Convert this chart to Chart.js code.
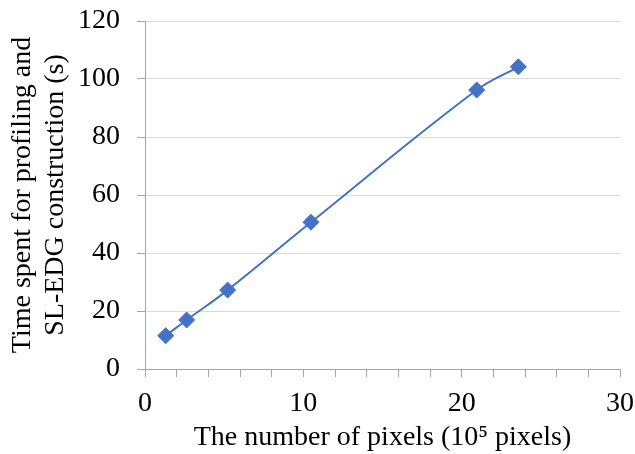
<!DOCTYPE html>
<html>
<head>
<meta charset="utf-8">
<script src="https://cdn.jsdelivr.net/npm/chart.js@4"></script>
<style>
  html, body { margin: 0; padding: 0; background: #fff; }
  #wrap { width: 635px; height: 454px; }
</style>
</head>
<body>
<div id="wrap"><canvas id="chart" width="635" height="454"></canvas></div>
<script>
// data (x in 10^5 pixels, y in seconds)
const pixels = [1.31, 2.63, 5.22, 10.48, 20.95, 23.58];
const times = [11.5, 16.9, 27.2, 50.6, 96.2, 104.2];
const xTitle = 'The number of pixels (10\u2075 pixels)';
const yTitle = ['Time spent for profiling and', 'SL-EDG construction (s)'];

const points = pixels.map((x, i) => ({ x: x, y: times[i] }));
const font = { family: "'Liberation Serif', 'Times New Roman', serif", size: 28 };

const ctx = document.getElementById('chart').getContext('2d');
const chart = new Chart(ctx, {
  type: 'scatter',
  data: {
    datasets: [{
      data: points,
      showLine: true,
      borderColor: '#4472C4',
      borderWidth: 2,
      backgroundColor: '#4472C4',
      pointStyle: 'rectRot',
      pointRadius: 8,
      pointBorderWidth: 1,
      tension: 0.4
    }]
  },
  options: {
    responsive: false,
    animation: false,
    layout: { padding: { top: 21, right: 15, left: 0, bottom: 0 } },
    plugins: { legend: { display: false }, tooltip: { enabled: false } },
    scales: {
      x: {
        type: 'linear',
        min: 0, max: 30,
        // fixed box so the plot lands where the original one is
        afterFit: s => { s.height = 85; s.paddingLeft = 0; s.paddingRight = 0; },
        ticks: {
          stepSize: 2,
          color: '#000',
          font: font,
          padding: 10,
          maxRotation: 0,
          autoSkip: false,
          callback: v => (v % 10 === 0 ? v : '')
        },
        grid: { drawOnChartArea: false, tickLength: 8, tickColor: '#a6a6a6' },
        border: { color: '#a6a6a6', width: 1 },
        title: { display: true, text: xTitle, color: '#000', font: font, padding: { top: 0, bottom: 0 } }
      },
      y: {
        min: 0, max: 120,
        afterFit: s => { s.width = 145; s.paddingTop = 0; s.paddingBottom = 0; },
        ticks: { stepSize: 20, color: '#000', font: font, padding: 17 },
        grid: { color: '#d9d9d9', tickLength: 8, tickColor: '#a6a6a6' },
        border: { color: '#a6a6a6', width: 1 },
        title: { display: true, text: yTitle, color: '#000', font: Object.assign({ lineHeight: 1.18 }, font), padding: { top: 6, bottom: 0 } }
      }
    }
  }
});
</script>
</body>
</html>
